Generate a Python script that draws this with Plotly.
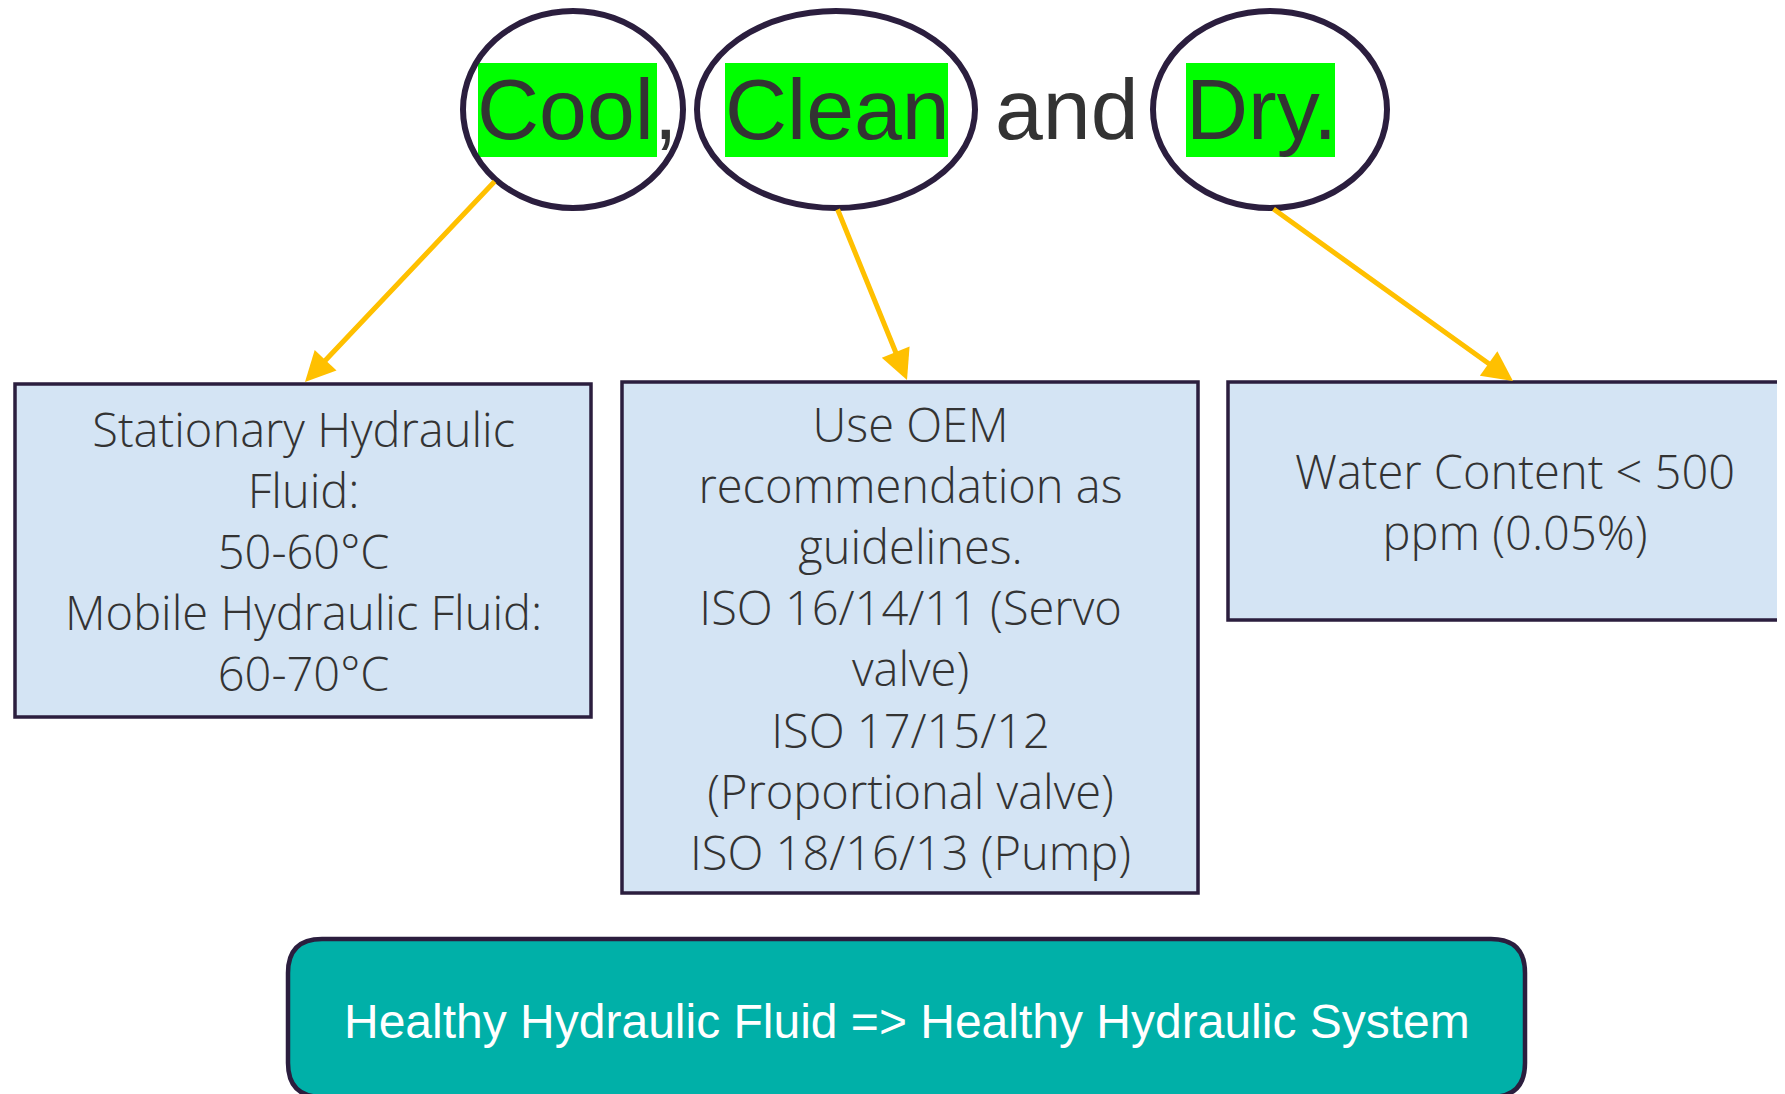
import plotly.graph_objects as go

W, H = 1785, 1094
OFF = 8  # browser default body margin; data coords == page pixels

# ---- content ----
title_words = ["Cool,", "Clean", "and", "Dry."]
title_x = [577, 837, 1067, 1261]
highlight_x0 = [478, 725, None, 1186]
highlight_x1 = [657, 948, None, 1335]

ellipse_cx = [573, 836, 1270]
ellipse_rx = [110, 139, 117]

box_lines = [
    ["Stationary Hydraulic", "Fluid:", "50-60°C", "Mobile Hydraulic Fluid:", "60-70°C"],
    ["Use OEM", "recommendation as", "guidelines.", "ISO 16/14/11 (Servo", "valve)",
     "ISO 17/15/12", "(Proportional valve)", "ISO 18/16/13 (Pump)"],
    ["Water Content < 500", "ppm (0.05%)"],
]
box_x0 = [15, 622, 1228]
box_x1 = [591, 1198, 1805]
box_y0 = [384, 382, 382]
box_y1 = [717, 893, 620]
box_text_cx = [303, 910, 1515]

arrow_tail = [(496, 180), (837, 208), (1272, 208)]
arrow_tip = [(305, 382), (907, 380), (1513, 381)]

footer_text = "Healthy Hydraulic Fluid => Healthy Hydraulic System"

DARK = "#2B1E3E"
TEXT = "#333333"
GOLD = "#FFC000"
GREEN = "#00FF00"
BOXFILL = "#D4E4F4"
TEAL = "#00B0A8"

fig = go.Figure()
shapes = []
annotations = []

# green highlights
for x0, x1 in zip(highlight_x0, highlight_x1):
    if x0 is None:
        continue
    shapes.append(dict(type="rect", xref="x", yref="y", x0=x0, x1=x1, y0=63, y1=157,
                       fillcolor=GREEN, line=dict(width=0), layer="below"))

# ellipses
for cx, rx in zip(ellipse_cx, ellipse_rx):
    shapes.append(dict(type="circle", xref="x", yref="y", x0=cx - rx, x1=cx + rx,
                       y0=11, y1=208, line=dict(color=DARK, width=6), fillcolor="rgba(0,0,0,0)"))

# boxes
for x0, x1, y0, y1 in zip(box_x0, box_x1, box_y0, box_y1):
    shapes.append(dict(type="rect", xref="x", yref="y", x0=x0, x1=x1, y0=y0, y1=y1,
                       fillcolor=BOXFILL, line=dict(color=DARK, width=3.5)))

# footer rounded rect
fx0, fx1, fy0, fy1, r = 288, 1525, 939, 1097, 34
path = (f"M {fx0+r},{fy0} L {fx1-r},{fy0} Q {fx1},{fy0} {fx1},{fy0+r} "
        f"L {fx1},{fy1-r} Q {fx1},{fy1} {fx1-r},{fy1} L {fx0+r},{fy1} "
        f"Q {fx0},{fy1} {fx0},{fy1-r} L {fx0},{fy0+r} Q {fx0},{fy0} {fx0+r},{fy0} Z")
shapes.append(dict(type="path", xref="x", yref="y", path=path, fillcolor=TEAL,
                   line=dict(color=DARK, width=4.5)))

# title words
title_font = dict(family="Liberation Sans, Arial, sans-serif", size=86, color=TEXT)
for w, x in zip(title_words, title_x):
    annotations.append(dict(x=x, y=109, xref="x", yref="y", text=w, showarrow=False,
                            xanchor="center", yanchor="middle", font=title_font))

# arrows
for (tx, ty), (hx, hy) in zip(arrow_tail, arrow_tip):
    annotations.append(dict(x=hx, y=hy, ax=tx, ay=ty, xref="x", yref="y", axref="x", ayref="y",
                            text="", showarrow=True, arrowhead=2, arrowsize=1.2, arrowwidth=5,
                            arrowcolor=GOLD, standoff=0, startstandoff=0))

# box texts (one multi-line annotation per box)
body_font = dict(family="Open Sans, Lato, Noto Sans, sans-serif", size=47, color=TEXT, weight=300)
for lines, cx, y0, y1 in zip(box_lines, box_text_cx, box_y0, box_y1):
    annotations.append(dict(x=cx, y=(y0 + y1) / 2, xref="x", yref="y",
                            text="<br>".join(lines), showarrow=False, align="center",
                            xanchor="center", yanchor="middle", font=body_font))

# footer text
annotations.append(dict(x=907, y=1021, xref="x", yref="y", text=footer_text, showarrow=False,
                        xanchor="center", yanchor="middle",
                        font=dict(family="Liberation Sans, Arial, sans-serif", size=48, color="#FFFFFF")))

fig.update_layout(
    width=W, height=H,
    margin=dict(l=0, r=0, t=0, b=0),
    paper_bgcolor="white", plot_bgcolor="white",
    xaxis=dict(range=[OFF, W + OFF], visible=False, fixedrange=True),
    yaxis=dict(range=[H + OFF, OFF], visible=False, fixedrange=True),
    shapes=shapes, annotations=annotations, showlegend=False,
)
fig.write_html("out.html", config={"displayModeBar": False})
